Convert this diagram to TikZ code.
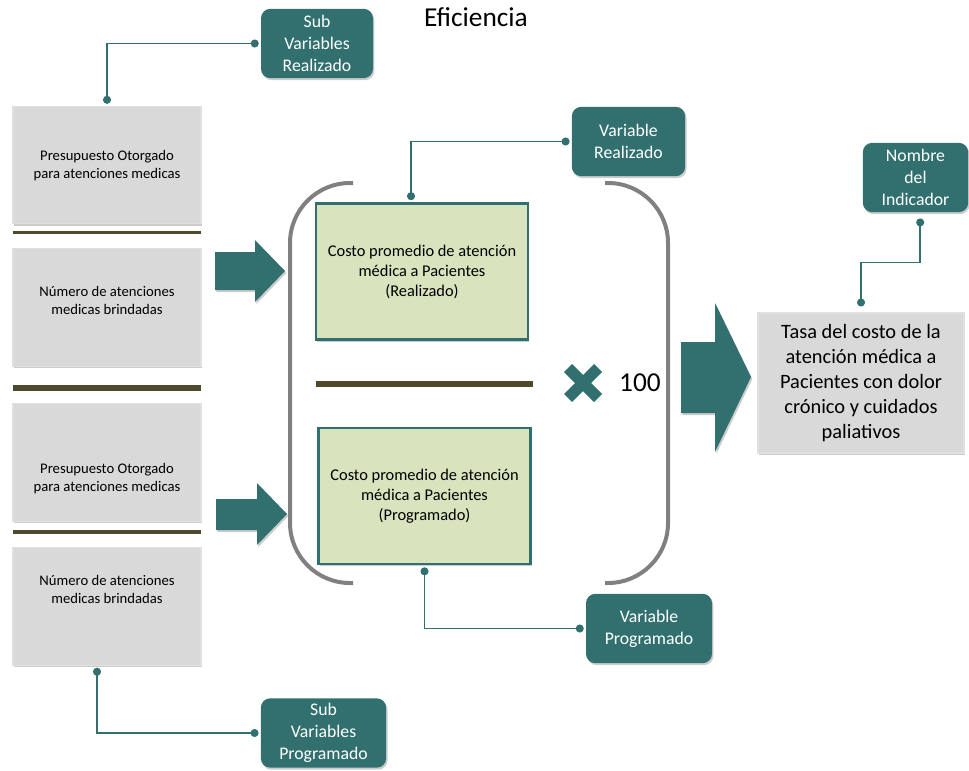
\documentclass[tikz,border=0pt]{standalone}
\usepackage{fontspec}
\setmainfont{Carlito}
\usepackage{tikz}
\usetikzlibrary{shadows}
\usetikzlibrary{arrows.meta}
\usetikzlibrary{shapes.misc}
\definecolor{verdeazul}{RGB}{49,112,111}
\definecolor{pasto}{RGB}{215,228,189}
\definecolor{gris}{RGB}{217,217,217}
\definecolor{grisllave}{RGB}{128,128,128}
\definecolor{oliva}{RGB}{79,74,46}

\begin{document}
\begin{tikzpicture}[x=0.75pt,y=-0.75pt,
  sombra/.style={drop shadow={shadow xshift=1pt,shadow yshift=-1.5pt,opacity=0.4}},
  caja/.style={draw=white!88!black,line width=0.8pt,fill=gris,minimum width=141pt,minimum height=88pt,sombra},
  textocaja/.style={align=center,font=\fontsize{11}{13.5}\selectfont},
  costo/.style={draw=verdeazul,line width=2pt,fill=pasto,minimum width=159pt,minimum height=102pt,align=center,font=\fontsize{12.3}{15}\selectfont,sombra},
  etiqueta/.style={rounded corners=7pt,fill=verdeazul,text=white,align=center,minimum height=52pt,font=\fontsize{13.3}{16.5}\selectfont,sombra},
  enlace/.style={draw=verdeazul,line width=1.1pt,{Circle[length=6pt]}-{Circle[length=6pt]}},
  flecha/.style={fill=verdeazul,sombra}]
  \useasboundingbox (0,0) rectangle (969,770);

  \node[font=\fontsize{20.5}{24}\selectfont] (titulo) at (476,17) {Eficiencia};

  \foreach \y/\n in {165/p1,307.5/p2,462.5/p3,606.5/p4}{
    \node[caja] (\n) at (107,\y) {};
  }
  \node[textocaja] (tp1) at (107,166) {Presupuesto Otorgado\\para atenciones medicas};
  \node[textocaja] (tp2) at (107,300) {Número de atenciones\\medicas brindadas};
  \node[textocaja] (tp3) at (107,479) {Presupuesto Otorgado\\para atenciones medicas};
  \node[textocaja] (tp4) at (107,589) {Número de atenciones\\medicas brindadas};
  \draw[oliva,line width=2.5pt] (13,232.5) -- (201,232.5);
  \draw[oliva,line width=4.5pt] (13,387.5) -- (201,387.5);
  \draw[oliva,line width=2.5pt] (13,532) -- (201,532);

  \fill[flecha] (215,252) -- (255,252) -- (255,240) -- (285,271) -- (255,302) -- (255,290) -- (215,290) -- cycle;
  \fill[flecha] (216,499) -- (257,499) -- (257,483) -- (287,514) -- (257,545) -- (257,530) -- (216,530) -- cycle;
  \fill[flecha] (681,342) -- (715,342) -- (715,303) -- (751,377) -- (715,452) -- (715,413) -- (681,413) -- cycle;

  \draw[grisllave,line width=3pt,rounded corners=45pt] (353,183) -- (290,183) -- (290,583) -- (353,583);
  \draw[grisllave,line width=3pt,rounded corners=45pt] (605,183) -- (668,183) -- (668,583) -- (605,583);

  \node[costo] (g1) at (422,271.5) {Costo promedio de atención\\médica a Pacientes\\(Realizado)};
  \node[costo] (g2) at (424.5,496) {Costo promedio de atención\\médica a Pacientes\\(Programado)};
  \draw[oliva,line width=4pt] (316,384) -- (533,384);
  \node[cross out,draw=verdeazul,line width=8.5pt,minimum size=14pt,inner sep=0pt,sombra] (por) at (583,383) {};
  \node[font=\fontsize{20.5}{20.5}\selectfont] (cien) at (640,383) {100};

  \node[caja,minimum width=154.5pt,minimum height=105pt,align=center,font=\fontsize{15.3}{18.75}\selectfont] (res) at (861,383) {Tasa del costo de la\\atención médica a\\Pacientes con dolor\\crónico y cuidados\\paliativos};

  \node[etiqueta,minimum width=84pt] (sv1) at (317,43.5) {Sub\\Variables\\Realizado};
  \node[etiqueta,minimum width=85pt] (vr) at (628.5,141.5) {Variable\\Realizado};
  \node[etiqueta,minimum width=94.5pt] (vp) at (649,628.5) {Variable\\Programado};
  \node[etiqueta,minimum width=79pt] (nom) at (915.5,177.5) {Nombre\\del\\Indicador};
  \node[etiqueta,minimum width=94pt] (sv2) at (323.5,733) {Sub\\Variables\\Programado};

  \draw[enlace] ([xshift=-1.5pt]sv1.west) -| ([yshift=1.5pt]p1.north);
  \draw[enlace] ([xshift=-1.5pt]vr.west) -| ([xshift=-8.25pt,yshift=1.5pt]g1.north);
  \draw[enlace] ([xshift=-1.5pt]vp.west) -| ([yshift=-1.5pt]g2.south);
  \draw[enlace] ([xshift=3.5pt,yshift=-4.5pt]nom.south) -- ++(0,44) -| ([yshift=4.5pt]res.north);
  \draw[enlace] ([xshift=-1.5pt]sv2.west) -| ([xshift=-7.5pt,yshift=-1.5pt]p4.south);
\end{tikzpicture}
\end{document}
